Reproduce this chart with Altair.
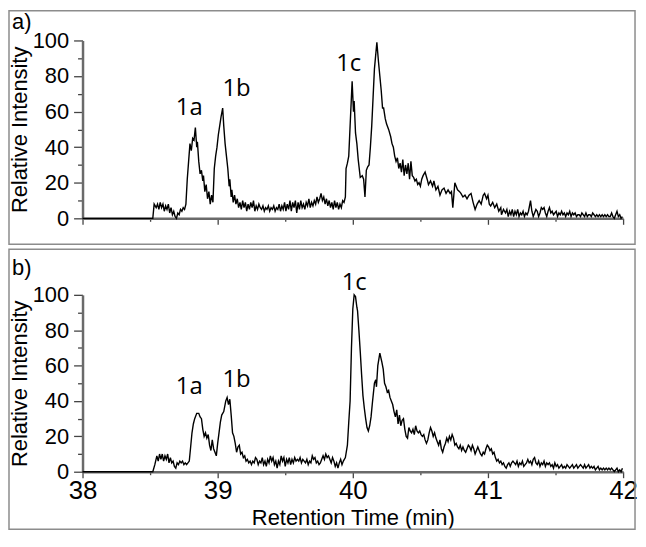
import altair as alt
import pandas as pd

# ---- data: (retention time [min], relative intensity) ----
a_points = [
    (38.00, 0), (38.52, 0), (38.53, 8), (38.545, 6), (38.555, 8), (38.565, 5), (38.575, 9), (38.585, 6),
    (38.595, 8), (38.605, 4), (38.615, 7), (38.625, 5), (38.635, 8), (38.645, 3), (38.655, 6), (38.665, 2),
    (38.675, 4), (38.685, 1), (38.695, 0), (38.705, 3), (38.715, 2), (38.725, 5), (38.735, 4), (38.745, 6),
    (38.755, 5), (38.765, 8), (38.775, 22), (38.785, 32), (38.795, 42), (38.805, 38), (38.815, 45), (38.825, 44),
    (38.835, 51), (38.845, 40), (38.85, 43), (38.86, 32), (38.87, 25), (38.88, 27), (38.89, 21), (38.895, 24),
    (38.905, 15), (38.915, 19), (38.925, 11), (38.935, 15), (38.945, 8), (38.955, 13), (38.965, 9), (38.975, 28),
    (38.985, 35), (38.995, 40), (39.005, 47), (39.015, 52), (39.025, 57), (39.037, 62), (39.045, 52), (39.055, 42),
    (39.065, 35), (39.075, 28), (39.085, 18), (39.09, 22), (39.10, 12), (39.105, 16), (39.115, 9), (39.125, 13),
    (39.135, 8), (39.145, 11), (39.155, 6), (39.165, 9), (39.175, 5), (39.185, 10), (39.195, 6), (39.205, 9),
    (39.215, 4), (39.225, 8), (39.235, 5), (39.245, 9), (39.255, 6), (39.265, 10), (39.275, 4), (39.285, 7),
    (39.295, 5), (39.305, 8), (39.315, 6), (39.325, 5), (39.335, 7), (39.345, 4), (39.355, 6), (39.365, 5),
    (39.375, 7), (39.385, 4), (39.395, 6), (39.405, 5), (39.415, 7), (39.425, 4), (39.435, 6), (39.445, 5),
    (39.455, 8), (39.465, 4), (39.475, 7), (39.485, 5), (39.495, 9), (39.505, 4), (39.515, 8), (39.525, 5),
    (39.535, 10), (39.545, 4), (39.555, 9), (39.565, 6), (39.575, 10), (39.585, 3), (39.595, 9), (39.605, 5),
    (39.615, 10), (39.625, 6), (39.635, 8), (39.645, 5), (39.655, 9), (39.665, 7), (39.675, 11), (39.685, 6),
    (39.695, 9), (39.705, 7), (39.715, 10), (39.725, 8), (39.735, 12), (39.745, 9), (39.755, 11), (39.765, 14),
    (39.775, 10), (39.785, 12), (39.795, 8), (39.805, 11), (39.815, 7), (39.825, 10), (39.835, 6), (39.845, 9),
    (39.855, 5), (39.865, 10), (39.875, 6), (39.885, 9), (39.895, 5), (39.905, 8), (39.915, 6), (39.925, 10),
    (39.935, 9), (39.945, 12), (39.95, 28), (39.96, 31), (39.97, 35), (39.98, 52), (39.995, 77), (40.005, 60),
    (40.01, 66), (40.02, 48), (40.03, 42), (40.04, 33), (40.055, 23), (40.07, 24), (40.08, 22), (40.09, 12),
    (40.10, 27), (40.11, 29), (40.12, 30), (40.13, 40), (40.14, 52), (40.15, 68), (40.16, 84), (40.178, 99),
    (40.19, 88), (40.20, 80), (40.21, 72), (40.22, 62), (40.228, 62), (40.24, 56), (40.25, 53), (40.265, 50),
    (40.28, 46), (40.29, 42), (40.30, 40), (40.31, 35), (40.32, 32), (40.33, 34), (40.34, 28), (40.35, 31),
    (40.36, 26), (40.37, 33), (40.38, 24), (40.39, 30), (40.40, 25), (40.41, 31), (40.42, 22), (40.43, 32),
    (40.44, 24), (40.45, 23), (40.46, 21), (40.47, 22), (40.48, 19), (40.49, 20), (40.50, 18), (40.51, 22),
    (40.52, 24), (40.535, 26), (40.55, 22), (40.56, 19), (40.575, 21), (40.59, 18), (40.60, 21), (40.615, 16),
    (40.63, 18), (40.645, 13), (40.66, 16), (40.675, 17), (40.69, 14), (40.705, 16), (40.72, 14), (40.73, 15),
    (40.74, 6), (40.755, 20), (40.765, 18), (40.775, 16), (40.79, 15), (40.80, 14), (40.815, 12), (40.83, 13),
    (40.845, 11), (40.86, 13), (40.875, 14), (40.89, 9), (40.905, 5), (40.92, 8), (40.935, 10), (40.95, 8),
    (40.965, 13), (40.975, 14), (40.99, 11), (41.00, 13), (41.01, 8), (41.02, 7), (41.035, 9), (41.05, 6),
    (41.065, 8), (41.08, 4), (41.095, 6), (41.10, 2), (41.115, 5), (41.13, 3), (41.14, 5), (41.15, 1),
    (41.16, 4), (41.17, 2), (41.18, 5), (41.19, 1), (41.20, 4), (41.21, 2), (41.22, 5), (41.23, 1),
    (41.24, 3), (41.25, 2), (41.26, 4), (41.27, 1), (41.28, 3), (41.29, 2), (41.30, 4), (41.315, 10),
    (41.325, 4), (41.335, 1), (41.345, 3), (41.355, 5), (41.365, 4), (41.375, 1), (41.385, 3), (41.395, 6),
    (41.405, 5), (41.415, 6), (41.425, 3), (41.435, 1), (41.445, 4), (41.455, 6), (41.465, 3), (41.475, 4),
    (41.485, 2), (41.495, 3), (41.505, 4), (41.515, 1), (41.525, 3), (41.535, 2), (41.545, 4), (41.555, 2),
    (41.565, 3), (41.575, 1), (41.585, 3), (41.595, 2), (41.605, 4), (41.615, 1), (41.625, 3), (41.635, 2),
    (41.645, 3), (41.655, 1), (41.665, 2), (41.675, 2), (41.685, 1), (41.695, 3), (41.705, 2), (41.715, 1),
    (41.725, 3), (41.735, 1), (41.745, 2), (41.755, 2), (41.765, 1), (41.775, 3), (41.785, 2), (41.795, 1),
    (41.805, 2), (41.815, 1), (41.825, 2), (41.835, 1), (41.845, 2), (41.855, 1), (41.865, 2), (41.875, 1),
    (41.885, 2), (41.895, 1), (41.905, 1), (41.915, 3), (41.925, 1), (41.935, 0), (41.945, 2), (41.955, 4),
    (41.965, 1), (41.975, 2), (41.985, 0), (41.995, 1),
]

b_points = [
    (38.00, 0), (38.52, 0), (38.535, 4), (38.55, 9), (38.56, 6), (38.57, 10), (38.58, 7), (38.59, 10),
    (38.60, 6), (38.61, 9), (38.62, 7), (38.63, 10), (38.64, 5), (38.65, 8), (38.66, 5), (38.67, 6),
    (38.68, 3), (38.69, 2), (38.70, 5), (38.71, 4), (38.72, 6), (38.73, 5), (38.74, 6), (38.75, 4),
    (38.76, 5), (38.77, 4), (38.78, 5), (38.79, 6), (38.80, 14), (38.81, 22), (38.82, 27), (38.83, 30),
    (38.845, 33), (38.86, 33), (38.87, 31), (38.88, 30), (38.89, 24), (38.90, 20), (38.91, 22), (38.92, 19),
    (38.93, 21), (38.94, 15), (38.95, 12), (38.96, 18), (38.97, 13), (38.98, 11), (38.99, 9), (39.00, 16),
    (39.01, 22), (39.02, 28), (39.03, 32), (39.045, 34), (39.06, 40), (39.07, 42), (39.08, 38), (39.09, 41),
    (39.10, 32), (39.11, 22), (39.12, 20), (39.13, 16), (39.14, 11), (39.15, 14), (39.16, 15), (39.17, 10),
    (39.18, 11), (39.19, 8), (39.20, 9), (39.21, 6), (39.22, 7), (39.23, 5), (39.24, 6), (39.25, 4),
    (39.26, 6), (39.27, 5), (39.28, 8), (39.29, 7), (39.30, 4), (39.31, 6), (39.32, 5), (39.33, 8),
    (39.34, 4), (39.35, 6), (39.36, 3), (39.37, 7), (39.38, 5), (39.39, 9), (39.40, 6), (39.41, 8),
    (39.42, 4), (39.43, 6), (39.44, 2), (39.45, 6), (39.46, 4), (39.47, 9), (39.48, 6), (39.49, 8),
    (39.50, 3), (39.51, 7), (39.52, 5), (39.53, 8), (39.54, 4), (39.55, 7), (39.56, 5), (39.57, 8),
    (39.58, 6), (39.59, 7), (39.60, 6), (39.61, 8), (39.62, 5), (39.63, 7), (39.64, 6), (39.65, 5),
    (39.66, 7), (39.67, 4), (39.68, 6), (39.69, 5), (39.70, 9), (39.71, 7), (39.72, 8), (39.73, 5),
    (39.74, 6), (39.75, 4), (39.76, 5), (39.77, 7), (39.78, 9), (39.79, 7), (39.80, 10), (39.81, 8),
    (39.82, 9), (39.83, 7), (39.84, 5), (39.85, 8), (39.86, 6), (39.87, 3), (39.88, 5), (39.89, 2),
    (39.90, 5), (39.91, 7), (39.92, 4), (39.93, 6), (39.945, 8), (39.96, 15), (39.97, 28), (39.98, 40),
    (39.99, 70), (40.00, 92), (40.01, 100), (40.02, 99), (40.03, 93), (40.035, 91), (40.045, 80), (40.055, 68),
    (40.065, 55), (40.075, 43), (40.085, 36), (40.095, 30), (40.105, 25), (40.115, 23), (40.125, 26), (40.135, 31),
    (40.145, 39), (40.16, 50), (40.17, 52), (40.175, 48), (40.185, 60), (40.20, 67), (40.215, 62), (40.225, 58),
    (40.235, 50), (40.245, 48), (40.255, 45), (40.265, 46), (40.275, 42), (40.285, 40), (40.295, 38), (40.305, 34),
    (40.315, 31), (40.325, 35), (40.335, 27), (40.345, 32), (40.355, 26), (40.365, 29), (40.375, 30), (40.385, 24),
    (40.395, 20), (40.405, 19), (40.415, 25), (40.425, 23), (40.435, 22), (40.445, 24), (40.455, 21), (40.465, 26),
    (40.475, 23), (40.485, 22), (40.495, 23), (40.505, 21), (40.515, 20), (40.525, 21), (40.535, 18), (40.545, 16),
    (40.555, 18), (40.565, 22), (40.575, 25), (40.585, 23), (40.595, 20), (40.605, 22), (40.615, 19), (40.625, 17),
    (40.635, 15), (40.645, 18), (40.655, 13), (40.665, 11), (40.675, 14), (40.685, 16), (40.695, 19), (40.705, 17),
    (40.715, 20), (40.725, 18), (40.735, 21), (40.745, 19), (40.755, 15), (40.765, 16), (40.775, 14), (40.785, 13),
    (40.795, 15), (40.805, 12), (40.815, 14), (40.825, 12), (40.835, 11), (40.845, 13), (40.855, 15), (40.865, 14),
    (40.875, 12), (40.885, 15), (40.895, 13), (40.905, 10), (40.915, 12), (40.925, 14), (40.935, 12), (40.945, 10),
    (40.955, 9), (40.965, 11), (40.975, 10), (40.985, 13), (40.995, 15), (41.005, 14), (41.015, 12), (41.025, 13),
    (41.035, 10), (41.045, 11), (41.055, 8), (41.065, 6), (41.075, 7), (41.085, 5), (41.095, 6), (41.105, 4),
    (41.115, 5), (41.125, 3), (41.135, 2), (41.145, 4), (41.155, 5), (41.165, 3), (41.175, 5), (41.185, 6),
    (41.195, 5), (41.205, 4), (41.215, 6), (41.225, 3), (41.235, 5), (41.245, 4), (41.255, 6), (41.265, 3),
    (41.275, 4), (41.285, 5), (41.295, 7), (41.305, 5), (41.315, 6), (41.325, 4), (41.335, 7), (41.345, 8),
    (41.355, 5), (41.365, 4), (41.375, 6), (41.385, 3), (41.395, 5), (41.405, 4), (41.415, 6), (41.425, 3),
    (41.435, 5), (41.445, 4), (41.455, 5), (41.465, 3), (41.475, 4), (41.485, 2), (41.495, 5), (41.505, 3),
    (41.515, 4), (41.525, 2), (41.535, 3), (41.545, 4), (41.555, 2), (41.565, 3), (41.575, 2), (41.585, 4),
    (41.595, 3), (41.605, 2), (41.615, 3), (41.625, 4), (41.635, 2), (41.645, 3), (41.655, 4), (41.665, 2),
    (41.675, 3), (41.685, 4), (41.695, 3), (41.705, 2), (41.715, 4), (41.725, 2), (41.735, 3), (41.745, 4),
    (41.755, 2), (41.765, 3), (41.775, 2), (41.785, 3), (41.795, 1), (41.805, 2), (41.815, 3), (41.825, 1),
    (41.835, 2), (41.845, 1), (41.855, 2), (41.865, 1), (41.875, 2), (41.885, 1), (41.895, 2), (41.905, 1),
    (41.915, 2), (41.925, 1), (41.935, 0), (41.945, 1), (41.955, 2), (41.965, 0), (41.975, 1), (41.985, 0),
    (41.995, 2),
]

peak_names = ["1a", "1b", "1c"]
a_label_t = [38.79, 39.14, 39.97]
a_label_y = [58, 69, 83]
b_label_t = [38.79, 39.14, 40.01]
b_label_y = [44, 48, 103]

x_ticks = [38, 38.5, 39, 39.5, 40, 40.5, 41, 41.5, 42]
y_ticks = [0, 10, 20, 30, 40, 50, 60, 70, 80, 90, 100]

LABEL_FONT = "Liberation Sans"
PEAK_FONT = "Open Sans"
AX = "#6a6a6a"

xscale = alt.Scale(domain=[38, 42], nice=False, zero=False)
yscale = alt.Scale(domain=[0, 100], nice=False)


def x_axis(show_labels):
    kw = dict(
        values=x_ticks,
        grid=False,
        domainColor=AX,
        domainWidth=2.5,
        tickColor="#444444",
        tickWidth=1.3,
        tickSize={"condition": {"test": "datum.value % 1 === 0", "value": 6}, "value": 3},
        labelFlush=False,
        labelOverlap=False,
    )
    if show_labels:
        kw.update(
            labels=True,
            labelExpr="datum.value % 1 === 0 ? format(datum.value, 'd') : ''",
            labelFont=LABEL_FONT,
            labelFontSize=26,
            labelColor="black",
            labelPadding=0,
            title="Retention Time (min)",
            titleFont=LABEL_FONT,
            titleFontSize=22,
            titleFontWeight="normal",
            titleColor="black",
            titlePadding=4,
        )
    else:
        kw.update(labels=False, title=None)
    return alt.Axis(**kw)


def y_axis():
    return alt.Axis(
        values=y_ticks,
        grid=False,
        domainColor=AX,
        domainWidth=2.5,
        tickColor="#444444",
        tickWidth=1.3,
        tickSize={"condition": {"test": "datum.value % 20 === 0", "value": 9}, "value": 5},
        labelExpr="datum.value % 20 === 0 ? datum.label : ''",
        labelFont=LABEL_FONT,
        labelFontSize=22,
        labelColor="black",
        labelPadding=5,
        labelOverlap=False,
        title="Relative Intensity",
        titleFont=LABEL_FONT,
        titleFontSize=22,
        titleFontWeight="normal",
        titleColor="black",
        titlePadding=1,
    )


def panel(points, lab_t, lab_y, letter, show_x_labels, height, box_top, box_bottom, letter_y):
    df = pd.DataFrame(points, columns=["t", "v"])
    line = alt.Chart(df).mark_line(color="black", strokeWidth=1.4).encode(
        x=alt.X("t:Q", scale=xscale, axis=x_axis(show_x_labels)),
        y=alt.Y("v:Q", scale=yscale, axis=y_axis()),
    )
    ldf = pd.DataFrame({"t": lab_t, "v": lab_y, "name": peak_names})
    labels = alt.Chart(ldf).mark_text(
        font=PEAK_FONT, fontSize=24, color="black", align="center", baseline="alphabetic"
    ).encode(
        x=alt.X("t:Q", scale=xscale, axis=x_axis(show_x_labels)),
        y=alt.Y("v:Q", scale=yscale, axis=y_axis()),
        text="name:N",
    )
    letter_df = pd.DataFrame({"p": [letter]})
    let = alt.Chart(letter_df).mark_text(
        font=LABEL_FONT, fontSize=22, color="black", align="left", baseline="alphabetic"
    ).encode(x=alt.value(-71), y=alt.value(letter_y), text="p:N")
    box = alt.Chart(pd.DataFrame({"k": [1]})).mark_rect(
        fill="white", fillOpacity=0, stroke="#8c8c8c", strokeWidth=1.5
    ).encode(
        x=alt.value(-74), x2=alt.value(556), y=alt.value(box_top), y2=alt.value(box_bottom)
    )
    return alt.layer(line, labels, let, box).properties(width=544, height=height)


top = panel(a_points, a_label_t, a_label_y, "a)", False, 179, -30, 205, -12)
bottom = panel(b_points, b_label_t, b_label_y, "b)", True, 178, -46, 236, -20)

chart = alt.vconcat(top, bottom, spacing=3).properties(
    padding=0, background="white"
).configure_view(stroke=None)

chart.save("out.html", embed_options={"renderer": "svg", "actions": False})
